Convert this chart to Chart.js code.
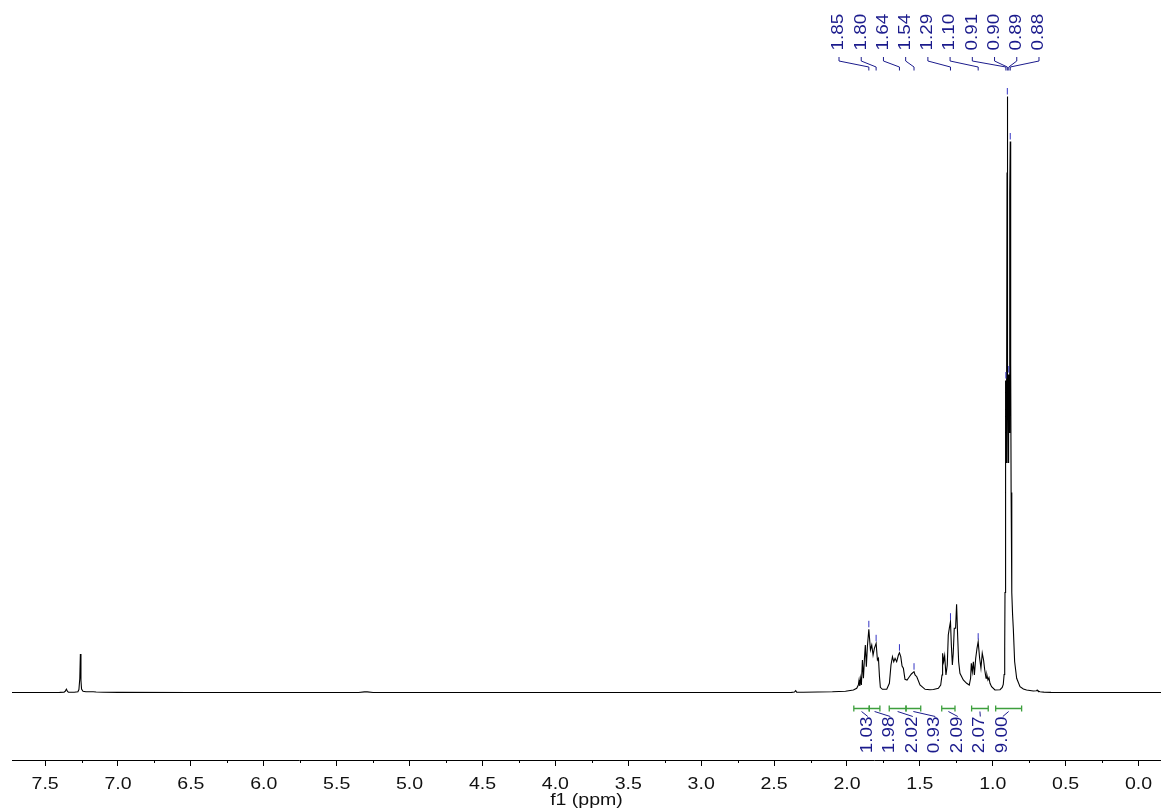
<!DOCTYPE html>
<html>
<head>
<meta charset="utf-8">
<script src="https://cdn.jsdelivr.net/npm/chart.js@4/dist/chart.umd.min.js"></script>
<style>
  html, body { margin: 0; padding: 0; background: #fff; }
  canvas { display: block; }
</style>
</head>
<body>
<canvas id="nmr" width="1161" height="809"></canvas>
<script>
// 1H NMR trace: chemical shift (ppm) and signal intensity (arbitrary units, baseline = 0)
const shiftPpm = [
  7.727, 7.50, 7.40, 7.37, 7.362, 7.354, 7.346, 7.34, 7.30, 7.275,
  7.268, 7.262, 7.258, 7.254, 7.25, 7.24, 7.22, 7.17, 7.15, 7.10,
  7.0, 6.5, 6.0, 5.5, 5.35, 5.31, 5.29, 5.25, 4.5, 4.0,
  3.5, 3.0, 2.5, 2.38, 2.36, 2.352, 2.345, 2.30, 2.20, 2.10,
  2.01, 1.956, 1.933, 1.922, 1.917, 1.912, 1.906, 1.901, 1.894, 1.887,
  1.880, 1.874, 1.867, 1.860, 1.850, 1.839, 1.830, 1.821, 1.812, 1.800,
  1.791, 1.784, 1.777, 1.771, 1.757, 1.727, 1.709, 1.698, 1.688, 1.679,
  1.670, 1.659, 1.647, 1.640, 1.631, 1.622, 1.613, 1.602, 1.588, 1.572,
  1.558, 1.540, 1.533, 1.521, 1.499, 1.464, 1.431, 1.407, 1.373, 1.357,
  1.348, 1.344, 1.337, 1.330, 1.321, 1.312, 1.305, 1.298, 1.290, 1.284,
  1.277, 1.271, 1.264, 1.255, 1.248, 1.241, 1.234, 1.225, 1.202, 1.179,
  1.161, 1.152, 1.147, 1.140, 1.133, 1.126, 1.117, 1.108, 1.100, 1.090,
  1.081, 1.072, 1.063, 1.055, 1.046, 1.040, 1.033, 1.026, 1.019, 1.008,
  0.985, 0.950, 0.935, 0.928, 0.922, 0.918, 0.916, 0.914, 0.912, 0.910,
  0.9075, 0.905, 0.902, 0.900, 0.8975, 0.895, 0.8925, 0.890, 0.8875, 0.885,
  0.882, 0.880, 0.877, 0.874, 0.871, 0.868, 0.864, 0.859, 0.850, 0.836,
  0.813, 0.790, 0.768, 0.722, 0.700, 0.695, 0.690, 0.676, 0.650, 0.600,
  0.500, 0.000, -0.154
];
const intensity = [
  0, 0, 0.1, 0.3, 1.2, 3.3, 1.0, 0.3, 0.3, 0.8,
  3, 14, 38.5, 12, 3.5, 1.3, 0.7, 0.8, 0.5, 0.2,
  0.1, 0, 0, 0, 0, 0.6, 0.6, 0, 0, 0,
  0, 0, 0, 0.1, 0.5, 1.8, 0.4, 0.3, 0.5, 0.7,
  1.2, 2.5, 4.2, 7.5, 12.5, 6.5, 14.2, 7.5, 32.5, 14.2,
  34.2, 47.5, 25.8, 45.8, 63.2, 42.5, 47.5, 37.5, 44.2, 49.2,
  32.5, 34.2, 15.8, 5.2, 3.2, 3.2, 9.2, 27.5, 35.8, 30.8,
  34.2, 30.8, 37.5, 39.8, 35.8, 26.5, 24.2, 13.2, 12.5, 15.8,
  18.5, 20.8, 17.5, 15.8, 7.5, 3.2, 2.8, 3.0, 4.2, 7.5,
  17.5, 39.2, 30.8, 36.8, 17.5, 27.5, 57.5, 64.2, 70.8, 47.5,
  27.5, 39.2, 64.2, 64.2, 88.2, 57.5, 30.8, 19.2, 12.5, 9.2,
  7.5, 14.2, 29.2, 20.8, 30.8, 17.5, 34.2, 44.2, 50.8, 34.2,
  24.2, 39.2, 32.5, 22.5, 14.2, 17.5, 12.5, 14.8, 9.2, 5.8,
  2.5, 2.8, 5, 8, 18, 45, 100, 200, 290, 312,
  230, 300, 520, 596, 300, 230, 280, 318, 260, 300,
  500, 551, 330, 200, 140, 100, 78, 64, 31, 14.2,
  5.8, 3.5, 2.5, 1.5, 1.8, 2.5, 1.5, 0.8, 0.4, 0.1,
  0, 0, 0
];

// picked peaks (ppm)
const peakShifts = [1.85, 1.80, 1.64, 1.54, 1.29, 1.10, 0.91, 0.90, 0.89, 0.88];

// integration regions (ppm) and normalised integrals
const integralFrom = [1.953, 1.847, 1.710, 1.595, 1.350, 1.145, 0.980];
const integralTo   = [1.847, 1.774, 1.595, 1.494, 1.259, 1.031, 0.802];
const integralValues = [1.03, 1.98, 2.02, 0.93, 2.09, 2.07, 9.00];

// axis range (ppm, drawn high-field to the right) and title
const X_MIN = -0.154, X_MAX = 7.727;
const Y_MIN = -67.5, Y_MAX = 672.5;
const X_TITLE = 'f1 (ppm)';

const BLUE_TEXT = '#1b1b8c';
const BLUE_MARK = '#3434c4';
const GREEN = '#3d9f3d';
const FONT = "'Liberation Sans', Arial, Helvetica, sans-serif";
const TEXT_STRETCH = 1.2;

function intensityAt(ppm) {
  for (let i = 0; i < shiftPpm.length - 1; i++) {
    const a = shiftPpm[i], b = shiftPpm[i + 1];
    if (ppm <= a && ppm >= b) {
      const t = a === b ? 0 : (a - ppm) / (a - b);
      return intensity[i] + t * (intensity[i + 1] - intensity[i]);
    }
  }
  return 0;
}

// rotated label reading bottom-to-top, baseline on the right
function drawVerticalLabel(ctx, text, centerX, startY, size) {
  ctx.save();
  ctx.font = size + 'px ' + FONT;
  ctx.fillStyle = BLUE_TEXT;
  ctx.textAlign = 'left';
  ctx.textBaseline = 'alphabetic';
  ctx.translate(centerX + size * 0.358, startY);
  ctx.rotate(-Math.PI / 2);
  ctx.scale(1.16, 1);
  ctx.fillText(text, 0, 0);
  ctx.restore();
}

// horizontally widened text, centred on x
function drawWideText(ctx, text, x, baselineY, size, color) {
  ctx.save();
  ctx.font = size + 'px ' + FONT;
  ctx.fillStyle = color;
  ctx.textAlign = 'center';
  ctx.textBaseline = 'alphabetic';
  ctx.translate(x, baselineY);
  ctx.scale(TEXT_STRETCH, 1);
  ctx.fillText(text, 0, 0);
  ctx.restore();
}

const annotations = {
  id: 'nmrAnnotations',
  afterDraw(chart) {
    const ctx = chart.ctx;
    const xs = chart.scales.x, ys = chart.scales.y;
    const area = chart.chartArea;

    // minor ticks every 0.25 ppm
    ctx.save();
    ctx.strokeStyle = '#000';
    ctx.lineWidth = 1;
    for (let v = Math.ceil(X_MIN / 0.25) * 0.25; v <= X_MAX; v += 0.25) {
      if (Math.abs(v / 0.5 - Math.round(v / 0.5)) < 1e-6) continue;
      const px = Math.round(xs.getPixelForValue(v)) + 0.5;
      ctx.beginPath();
      ctx.moveTo(px, area.bottom);
      ctx.lineTo(px, area.bottom + 3);
      ctx.stroke();
    }
    ctx.restore();

    // tick labels and axis title
    xs.ticks.forEach(t => {
      drawWideText(ctx, Math.abs(t.value).toFixed(1), xs.getPixelForValue(t.value), area.bottom + 28.5, 16.3, '#111');
    });
    drawWideText(ctx, X_TITLE, (area.left + area.right) / 2, area.bottom + 45, 16.3, '#111');

    // peak picking: apex marks, leader lines and shift labels
    const labelGap = 22.22, labelX0 = 837.5;
    ctx.save();
    ctx.lineWidth = 1;
    peakShifts.forEach((p, i) => {
      const px = xs.getPixelForValue(p);
      const apex = ys.getPixelForValue(intensityAt(p));
      ctx.strokeStyle = BLUE_MARK;
      ctx.beginPath();
      ctx.moveTo(px, apex - 8.5);
      ctx.lineTo(px, apex - 2);
      ctx.stroke();

      const lx = labelX0 + i * labelGap;
      ctx.strokeStyle = BLUE_TEXT;
      ctx.beginPath();
      ctx.moveTo(lx + 1.5, 57);
      ctx.lineTo(lx + 1.5, 61);
      ctx.lineTo(px, 67);
      ctx.lineTo(px, 70.5);
      ctx.stroke();

      drawVerticalLabel(ctx, p.toFixed(2), lx, 50.5, 16.3);
    });
    ctx.restore();

    // integrals: bracket bars and values
    const barY = ys.getPixelForValue(-16);
    const intGap = 22.5, intX0 = 865.8;
    ctx.save();
    integralValues.forEach((val, i) => {
      const x1 = xs.getPixelForValue(integralFrom[i]);
      const x2 = xs.getPixelForValue(integralTo[i]);
      ctx.strokeStyle = GREEN;
      ctx.lineWidth = 1.3;
      ctx.beginPath();
      ctx.moveTo(x1, barY); ctx.lineTo(x2, barY);
      ctx.moveTo(x1, barY - 3); ctx.lineTo(x1, barY + 3);
      ctx.moveTo(x2, barY - 3); ctx.lineTo(x2, barY + 3);
      ctx.stroke();

      const lx = intX0 + i * intGap;
      const cx = (x1 + x2) / 2;
      ctx.strokeStyle = BLUE_TEXT;
      ctx.lineWidth = 1;
      ctx.beginPath();
      ctx.moveTo(cx, barY + 3);
      ctx.lineTo(lx + 2, barY + 8);
      ctx.stroke();

      drawVerticalLabel(ctx, val.toFixed(2), lx, 753.3, 16.3);
    });
    ctx.restore();
  }
};

const points = shiftPpm.map((x, i) => ({ x, y: intensity[i] }));

new Chart(document.getElementById('nmr'), {
  type: 'line',
  data: {
    datasets: [{
      data: points,
      borderColor: '#000',
      borderWidth: 1.1,
      pointRadius: 0,
      tension: 0,
      fill: false
    }]
  },
  options: {
    responsive: false,
    animation: false,
    devicePixelRatio: 1,
    layout: { padding: { left: 12, right: 0, top: 20, bottom: 0 } },
    plugins: { legend: { display: false }, tooltip: { enabled: false } },
    scales: {
      x: {
        type: 'linear',
        reverse: true,
        min: X_MIN,
        max: X_MAX,
        border: { display: true, color: '#000', width: 1 },
        grid: { drawOnChartArea: false, drawTicks: true, tickLength: 6, color: '#000' },
        ticks: { stepSize: 0.5, includeBounds: false, autoSkip: false, display: false },
        title: { display: false },
        afterFit(scale) { scale.height = 49; }
      },
      y: { display: false, min: Y_MIN, max: Y_MAX }
    }
  },
  plugins: [annotations]
});
</script>
</body>
</html>
